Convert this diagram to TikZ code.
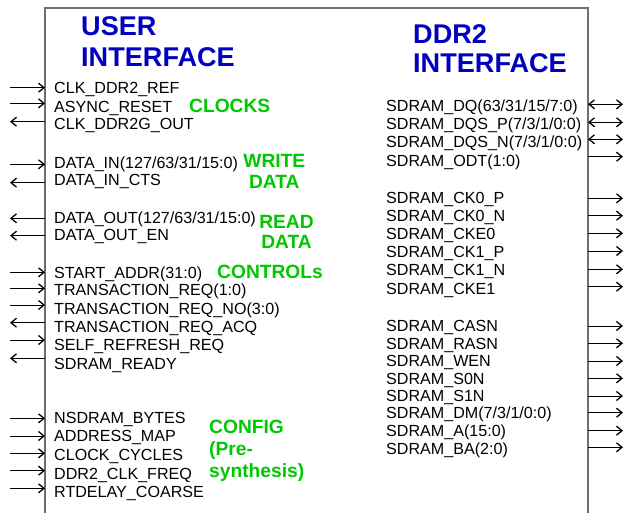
\documentclass[tikz,border=0pt]{standalone}
\usepackage{fontspec}
\setmainfont{Liberation Sans}
\usetikzlibrary{arrows.meta}
\definecolor{hdrblue}{RGB}{0,0,190}
\definecolor{grpgreen}{RGB}{0,200,0}
\definecolor{boxgray}{RGB}{110,110,110}
\begin{document}
\begin{tikzpicture}[x=1pt,y=-1pt,
  sig/.style={font=\fontsize{16.1}{18}\selectfont, inner sep=0pt, anchor=base west},
  hdr/.style={font=\fontsize{27.1}{30}\selectfont\bfseries, text=hdrblue, inner sep=0pt, anchor=base west},
  grp/.style={font=\fontsize{19.2}{22}\selectfont\bfseries, text=grpgreen, inner sep=0pt, anchor=base west},
  grpc/.style={grp, anchor=base},
  wire/.style={line width=0.9pt, black},
  barb/.tip={Straight Barb[length=5.5pt,width=9pt,line width=1.3pt]},
  portin/.style={{barb}-},
  portout/.style={-{barb}},
  portio/.style={{barb}-{barb}},
]
\useasboundingbox (0,0) rectangle (629,513);

% block outline (open at the bottom)
\coordinate (boxBL) at (45,513);
\coordinate (boxTL) at (45,8);
\coordinate (boxTR) at (588,8);
\coordinate (boxBR) at (588,513);
\draw[boxgray, line width=1.6pt] (boxBL) -- (boxTL) -- (boxTR) -- (boxBR);

% outer ends of the port wires
\coordinate (extL) at (10,0);
\coordinate (extR) at (623,0);

% headings
\node[hdr] (uiA) at (81,36) {USER};
\node[hdr] (uiB) at (81,66.7) {INTERFACE};
\node[hdr] (ddrA) at (413,43.3) {DDR2};
\node[hdr] (ddrB) at (413,72.7) {INTERFACE};

% signal group labels
\node[grp] (gClk) at (189,112.3) {CLOCKS};
\node[grpc] (gWrA) at (274.3,167.3) {WRITE};
\node[grpc] (gWrB) at (274.3,188.3) {DATA};
\node[grpc] (gRdA) at (286.5,228.3) {READ};
\node[grpc] (gRdB) at (286.5,248.3) {DATA};
\node[grp] (gCtl) at (217,278.3) {CONTROLs};
\node[grp] (gCfgA) at (209,433.3) {CONFIG};
\node[grp] (gCfgB) at (209,455.3) {(Pre-};
\node[grp] (gCfgC) at (209,477.3) {synthesis)};

% user-side ports: text / baseline / wire height / direction
\foreach \t/\b/\a/\k [count=\i] in {
  CLK\_DDR2\_REF/93.3/87.7/portin,
  ASYNC\_RESET/112.3/103.3/portin,
  CLK\_DDR2G\_OUT/130/121.7/portout,
  {DATA\_IN(127/63/31/15:0)}/168.3/164.3/portin,
  DATA\_IN\_CTS/185.7/182.7/portout,
  {DATA\_OUT(127/63/31/15:0)}/223.3/218.3/portout,
  DATA\_OUT\_EN/240.7/235.7/portout,
  START\_ADDR(31:0)/278.3/272.3/portin,
  TRANSACTION\_REQ(1:0)/295.7/288.3/portin,
  TRANSACTION\_REQ\_NO(3:0)/314.3/305/portin,
  TRANSACTION\_REQ\_ACQ/332.7/322.7/portout,
  SELF\_REFRESH\_REQ/350.7/340/portin,
  SDRAM\_READY/369.3/358.3/portout,
  NSDRAM\_BYTES/423.3/418.3/portin,
  ADDRESS\_MAP/441.7/436/portin,
  CLOCK\_CYCLES/460/453.3/portin,
  DDR2\_CLK\_FREQ/479/470.7/portin,
  RTDELAY\_COARSE/497.3/488.3/portin}{
  \node[sig] (L\i) at (54,\b) {\t};
  \pgfmathsetmacro\o{\b-\a}
  \draw[wire,\k] ([yshift=\o pt]L\i.base west -| boxTL) -- ([yshift=\o pt]L\i.base west -| extL);
}

% memory-side ports
\foreach \t/\b/\a/\k [count=\i] in {
  {SDRAM\_DQ(63/31/15/7:0)}/111.7/104.3/portio,
  {SDRAM\_DQS\_P(7/3/1/0:0)}/130/122.3/portio,
  {SDRAM\_DQS\_N(7/3/1/0:0)}/147.7/139.3/portio,
  SDRAM\_ODT(1:0)/166.7/156.7/portout,
  SDRAM\_CK0\_P/204/198.3/portout,
  SDRAM\_CK0\_N/221.7/215.7/portout,
  SDRAM\_CKE0/239.3/233.3/portout,
  SDRAM\_CK1\_P/257.7/251/portout,
  SDRAM\_CK1\_N/275.7/269.3/portout,
  SDRAM\_CKE1/294/286.7/portout,
  SDRAM\_CASN/331.7/326/portout,
  SDRAM\_RASN/349.3/343.3/portout,
  SDRAM\_WEN/366.7/361/portout,
  SDRAM\_S0N/384/378.3/portout,
  SDRAM\_S1N/401.7/396/portout,
  {SDRAM\_DM(7/3/1/0:0)}/418/412.7/portout,
  SDRAM\_A(15:0)/436.7/430.7/portout,
  SDRAM\_BA(2:0)/454/447.3/portout}{
  \node[sig] (R\i) at (386,\b) {\t};
  \pgfmathsetmacro\o{\b-\a}
  \draw[wire,\k] ([yshift=\o pt]R\i.base west -| boxTR) -- ([yshift=\o pt]R\i.base west -| extR);
}
\end{tikzpicture}
\end{document}
